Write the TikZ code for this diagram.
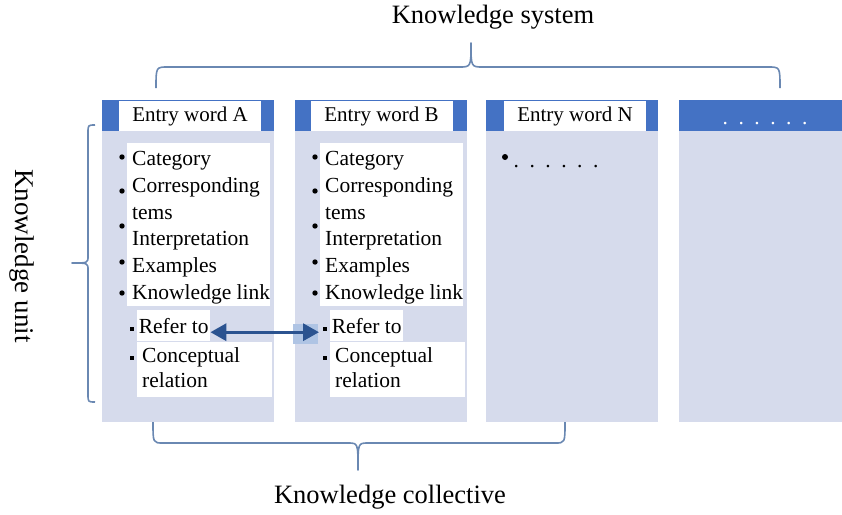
\documentclass[tikz,border=0pt]{standalone}
\usepackage{fontspec}
\setmainfont{Liberation Serif}
\usetikzlibrary{arrows.meta, positioning}

\definecolor{headblue}{HTML}{4472C4}
\definecolor{bodylav}{HTML}{D6DBEC}
\definecolor{bracegray}{HTML}{6A88B2}
\definecolor{linkblue}{HTML}{2B5390}
\definecolor{patchblue}{HTML}{AFC4E4}

\begin{document}
\begin{tikzpicture}[x=1pt, y=-1pt,
  colbody/.style={rectangle, fill=bodylav, anchor=north west, inner sep=0pt,
                  minimum width=172pt, minimum height=322pt},
  colhead/.style={rectangle, fill=headblue, anchor=north west, inner sep=0pt,
                  minimum width=172pt, minimum height=31pt},
  entrybox/.style={rectangle, fill=white, inner sep=0pt, minimum width=142pt,
                   minimum height=30pt, font=\fontsize{21}{24}\selectfont},
  itemtext/.style={anchor=base west, inner sep=0pt, font=\fontsize{21.5}{24}\selectfont},
  subbox/.style={rectangle, fill=white, anchor=north west, inner xsep=0.5pt,
                 inner ysep=0pt, minimum width=73pt, minimum height=31pt,
                 font=\fontsize{21.5}{24}\selectfont},
  bracepath/.style={draw=bracegray, line width=1.6pt, line join=round},
  bigtext/.style={inner sep=0pt, font=\fontsize{26.5}{30}\selectfont},
  linkarrow/.style={{Triangle[length=16pt,width=17pt]}-{Triangle[length=16pt,width=17pt]},
                    draw=linkblue, line width=3.3pt},
]
\useasboundingbox (0,0) rectangle (842,514);

% columns
\node[colbody] (colA) at (102,100) {};
\node[colbody] (colB) at (295,100) {};
\node[colbody] (colN) at (486,100) {};
\node[colbody, minimum width=163pt] (colD) at (679,100) {};
\node[colhead] (headA) at (102,100) {};
\node[colhead] (headB) at (295,100) {};
\node[colhead] (headN) at (486,100) {};
\node[colhead, minimum width=163pt] (headD) at (679,100) {};

\node[entrybox] (entryA) at (190,116)   {Entry word A};
\node[entrybox] (entryB) at (381.5,116) {Entry word B};
\node[entrybox] (entryN) at (575,116)   {Entry word N};

% the two filled entries
\fill[patchblue] (293,324) rectangle (318,344);
\foreach \c/\dx in {A/0, B/193} {
  \fill[white] ({127+\dx},143) rectangle ({270+\dx},306);
  \fill[white] ({137+\dx},342) rectangle ({272+\dx},397);
  \foreach \by in {157,191,226,262,293}
    \fill ({122+\dx},\by) circle (2.7pt);
  \foreach \by in {329,358}
    \fill ({130+\dx},{\by-2}) rectangle ({134+\dx},{\by+2});
  \node[itemtext] (cat\c)    at ({132+\dx},165) {Category};
  \node[itemtext] (corr\c)   at ({132+\dx},192) {Corresponding};
  \node[itemtext] (tems\c)   at ({132+\dx},219) {tems};
  \node[itemtext] (interp\c) at ({132+\dx},245) {Interpretation};
  \node[itemtext] (exam\c)   at ({132+\dx},272) {Examples};
  \node[itemtext] (klink\c)  at ({132+\dx},299) {Knowledge link};
  \node[subbox]   (refer\c)  at ({137+\dx},310) {Refer to};
  \node[itemtext] (concept\c) at ({142+\dx},362) {Conceptual};
  \node[itemtext] (rel\c)    at ({142+\dx},387) {relation};
}
\draw[linkarrow] ([yshift=-6.5pt]referA.east) -- ([xshift=-11pt,yshift=-6.5pt]referB.west);

% placeholders
\fill (505,157) circle (3pt);
\node[itemtext] (dotsN) at (513.5,167.5) {\spaceskip=8.7pt . . . . . .};
\node[itemtext, text=white] (dotsD) at (722.5,124.5) {\spaceskip=8.7pt . . . . . .};

% braces and their labels
\node[bigtext] (sysText) at (493,17) {Knowledge system};
\draw[bracepath] (156,88) .. controls (156,67) .. (168,67) -- (459,67)
  .. controls (471,67) .. (471,43) .. controls (471,67) .. (483,67) -- (768,67)
  .. controls (780,67) .. (780,88);
\node[bigtext, rotate=-90, font=\fontsize{27}{31}\selectfont] (unitText) at (22,256) {Knowledge unit};
\draw[bracepath] (95,125) .. controls (88,125) .. (88,133) -- (88,256)
  .. controls (88,263) .. (72,263) .. controls (88,263) .. (88,270) -- (88,394)
  .. controls (88,402) .. (95,402);
\node[bigtext] (collText) at (390,497) {Knowledge collective};
\draw[bracepath] (153,422) .. controls (153,443) .. (163,443) -- (348,443)
  .. controls (358,443) .. (358,470) .. controls (358,443) .. (368,443) -- (555,443)
  .. controls (565,443) .. (565,422);
\end{tikzpicture}
\end{document}
